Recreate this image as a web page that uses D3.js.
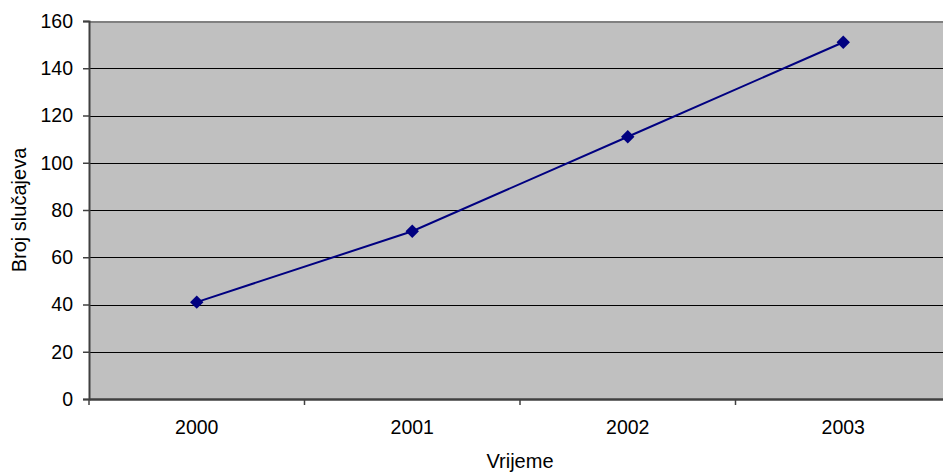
<!DOCTYPE html>
<html><head><meta charset="utf-8">
<script src="https://cdn.jsdelivr.net/npm/d3@7"></script>
<style>body{margin:0;background:#fff}svg{display:block}text{font-family:"Liberation Sans",Arial,sans-serif}</style>
</head><body>
<script>
const categories = ["2000","2001","2002","2003"];
const values = [41, 71, 111, 151];
const yTicks = [0,20,40,60,80,100,120,140,160];
const xTitle = "Vrijeme";
const yTitle = "Broj slučajeva";

(function(){
const W = 943, H = 474;
const pL = 89, pR = 951, pT = 21, pB = 399;
const FS = 19.5;
const svg = d3.select("body").append("svg").attr("width", W).attr("height", H);

const x = d3.scaleBand().domain(categories).range([pL, pR]);
const y = d3.scaleLinear().domain([0,160]).range([pB, pT]);

svg.append("rect").attr("x", pL).attr("y", pT).attr("width", pR-pL).attr("height", pB-pT).attr("fill", "#c0c0c0");

svg.append("g").selectAll("line").data(yTicks.filter(d=>d>0 && d<160)).join("line")
  .attr("x1", pL).attr("x2", pR).attr("y1", d=>Math.round(y(d))+0.5).attr("y2", d=>Math.round(y(d))+0.5)
  .attr("stroke", "#000").attr("stroke-width", 1);
svg.append("line").attr("x1", pL).attr("x2", pR).attr("y1", pT+1).attr("y2", pT+1).attr("stroke", "#808080").attr("stroke-width", 2);

const yAxis = d3.axisLeft(y).tickValues(yTicks).tickSize(6).tickPadding(10);
const gy = svg.append("g").attr("transform", `translate(${pL},0)`).call(yAxis);
gy.select(".domain").attr("stroke", "#404040").attr("stroke-width", 2);
gy.selectAll(".tick line").attr("stroke", "#404040").attr("stroke-width", 1.5);
gy.selectAll("text").attr("font-size", FS).attr("fill", "#000").attr("font-family", "Liberation Sans, Arial, sans-serif");

const xAxis = d3.axisBottom(x).tickSizeOuter(0).tickSize(0).tickPadding(21);
const gx = svg.append("g").attr("transform", `translate(0,${pB})`).call(xAxis);
gx.select(".domain").attr("stroke", "#404040").attr("stroke-width", 2.5);
gx.selectAll("text").attr("font-size", FS).attr("fill", "#000").attr("font-family", "Liberation Sans, Arial, sans-serif");
const bounds = categories.map(c => x(c));
svg.append("g").selectAll("line").data(bounds).join("line")
  .attr("x1", d=>d).attr("x2", d=>d).attr("y1", pB).attr("y2", pB+6)
  .attr("stroke", "#404040").attr("stroke-width", 1.5);

const cx = c => x(c) + x.bandwidth()/2;
svg.append("path").datum(categories.map((c,i)=>[cx(c), y(values[i])]))
  .attr("d", d3.line()).attr("fill", "none").attr("stroke", "#000080").attr("stroke-width", 2);
svg.append("g").selectAll("path").data(categories).join("path")
  .attr("d", d3.symbol().type(d3.symbolDiamond2).size(115))
  .attr("transform", (c,i)=>`translate(${cx(c)},${y(values[i])})`)
  .attr("fill", "#000080");

svg.append("text").attr("x", 520).attr("y", 468).attr("text-anchor", "middle").attr("font-size", 20).text(xTitle);
svg.append("text").attr("transform", "translate(26,210) rotate(-90)").attr("text-anchor", "middle").attr("font-size", 20).text(yTitle);
})();
</script>
</body></html>
